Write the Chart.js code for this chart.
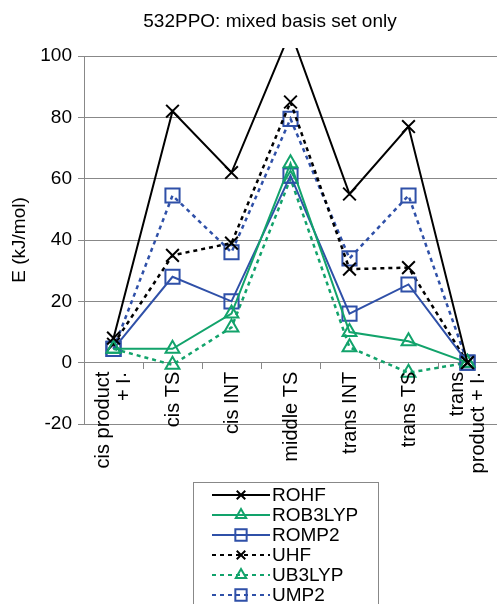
<!DOCTYPE html>
<html>
<head>
<meta charset="utf-8">
<script src="https://cdn.jsdelivr.net/npm/chart.js@4"></script>
<style>
  html, body { margin: 0; padding: 0; background: #fff; }
  #wrap { width: 497px; height: 604px; position: relative; }
</style>
</head>
<body>
<div id="wrap"><canvas id="grafico"></canvas></div>
<script>
// categorias e valores (kJ/mol)
const categorias = [['cis product', '+ I·'], 'cis TS', 'cis INT', 'middle TS', 'trans INT', 'trans TS', ['trans', 'product + I·']];
const rohf    = [8, 82, 62, 108, 55, 77, 0];
const rob3lyp = [4.5, 4.5, 16, 65, 10, 7, 0];
const romp2   = [4.5, 28, 20, 61, 16, 25.5, 0];
const uhf     = [6, 35, 39, 85, 30.5, 31, 0];
const ub3lyp  = [4.5, -0.7, 11.5, 60, 5, -3.3, 0];
const ump2    = [4.5, 54.5, 36, 79.5, 34, 54.5, 0];
const ticksY  = [-20, 0, 20, 40, 60, 80, 100];

const FONTE = "'Liberation Sans', Arial, sans-serif";
const PRETO = '#000000';
const VERDE = '#12a36b';
const AZUL = '#2f50a8';
const CINZA = '#888888';

function serie(nome, dados, cor, estilo, raio, pontilhado) {
    return {
        label: nome,
        data: dados,
        borderColor: cor,
        backgroundColor: 'transparent',
        borderWidth: pontilhado ? 2.5 : 2,
        borderDash: pontilhado ? [4, 4] : [],
        pointStyle: estilo,
        pointRadius: raio,
        pointBorderColor: cor,
        pointBackgroundColor: 'transparent',
        pointBorderWidth: 2,
        tension: 0,
        clip: { left: 12, top: 8, right: 12, bottom: 12 }
    };
}

const series = [
    serie('ROHF', rohf, PRETO, 'crossRot', 9, false),
    serie('ROB3LYP', rob3lyp, VERDE, 'triangle', 8, false),
    serie('ROMP2', romp2, AZUL, 'rect', 10, false),
    serie('UHF', uhf, PRETO, 'crossRot', 9, true),
    serie('UB3LYP', ub3lyp, VERDE, 'triangle', 8, true),
    serie('UMP2', ump2, AZUL, 'rect', 10, true)
];

// titulo, rotulos do eixo x e legenda desenhados a mao
const extrasPlugin = {
    id: 'extras',
    afterDraw(chart) {
        const ctx = chart.ctx;
        const eixoX = chart.scales.x;
        const eixoY = chart.scales.y;
        ctx.save();
        ctx.fillStyle = '#000';
        ctx.font = '19px ' + FONTE;
        ctx.textAlign = 'center';
        ctx.textBaseline = 'middle';
        ctx.fillText('532PPO: mixed basis set only', 270, 22);

        // rotulos verticais logo abaixo da linha do zero
        const topo = eixoY.getPixelForValue(0) + 9;
        ctx.font = '20px ' + FONTE;
        ctx.textAlign = 'right';
        categorias.forEach((rot, i) => {
            const linhas = Array.isArray(rot) ? rot : [rot];
            const cx = eixoX.getPixelForTick(i);
            linhas.forEach((txt, j) => {
                const dx = linhas.length > 1 ? (j - (linhas.length - 1) / 2) * 21 : 1;
                ctx.save();
                ctx.translate(cx + dx, topo);
                ctx.rotate(-Math.PI / 2);
                ctx.fillText(txt, 0, 0);
                ctx.restore();
            });
        });

        ctx.font = '19px ' + FONTE;
        ctx.strokeStyle = CINZA;
        ctx.lineWidth = 1;
        ctx.strokeRect(193.5, 482.5, 185, 140);
        ctx.textAlign = 'left';
        series.forEach((ds, i) => {
            const y = 495 + i * 20;
            ctx.strokeStyle = ds.borderColor;
            ctx.lineWidth = 2;
            ctx.setLineDash(ds.borderDash.length ? [4, 4] : []);
            ctx.beginPath();
            ctx.moveTo(212, y);
            ctx.lineTo(270, y);
            ctx.stroke();
            ctx.setLineDash([]);
            ctx.fillStyle = 'rgba(0,0,0,0)';
            Chart.helpers.drawPoint(ctx, {
                pointStyle: ds.pointStyle,
                radius: ds.pointStyle === 'rect' ? 8 : 6,
                borderWidth: 2
            }, 241, y);
            ctx.fillStyle = '#000';
            ctx.fillText(ds.label, 272, y + 1);
        });
        ctx.restore();
    }
};

const ctx = document.getElementById('grafico').getContext('2d');
new Chart(ctx, {
    type: 'line',
    data: { labels: categorias, datasets: series },
    plugins: [extrasPlugin],
    options: {
        responsive: true,
        maintainAspectRatio: false,
        animation: false,
        layout: { autoPadding: false, padding: { top: 56, right: 0, bottom: 180, left: 0 } },
        plugins: {
            legend: { display: false },
            tooltip: { enabled: false },
            title: { display: false }
        },
        scales: {
            x: {
                type: 'category',
                position: { y: 0 },
                offset: true,
                afterFit(eixo) { eixo.paddingLeft = 0; eixo.paddingRight = 0; },
                border: { display: true, color: CINZA, width: 1 },
                grid: { offset: true, drawOnChartArea: false, drawTicks: true, tickLength: 6, color: CINZA },
                ticks: { display: false, autoSkip: false }
            },
            y: {
                min: -20,
                max: 100,
                afterBuildTicks(eixo) { eixo.ticks = ticksY.map(v => ({ value: v })); },
                afterFit(eixo) { eixo.width = 84; },
                border: { display: true, color: CINZA, width: 1 },
                grid: { color: CINZA, lineWidth: 1, drawTicks: true, tickLength: 6 },
                ticks: {
                    color: '#000',
                    font: { family: FONTE, size: 19 },
                    padding: 6
                },
                title: {
                    display: true,
                    text: 'E (kJ/mol)',
                    color: '#000',
                    font: { family: FONTE, size: 19 },
                    padding: { top: 8, bottom: 0 }
                }
            }
        }
    }
});
</script>
</body>
</html>
